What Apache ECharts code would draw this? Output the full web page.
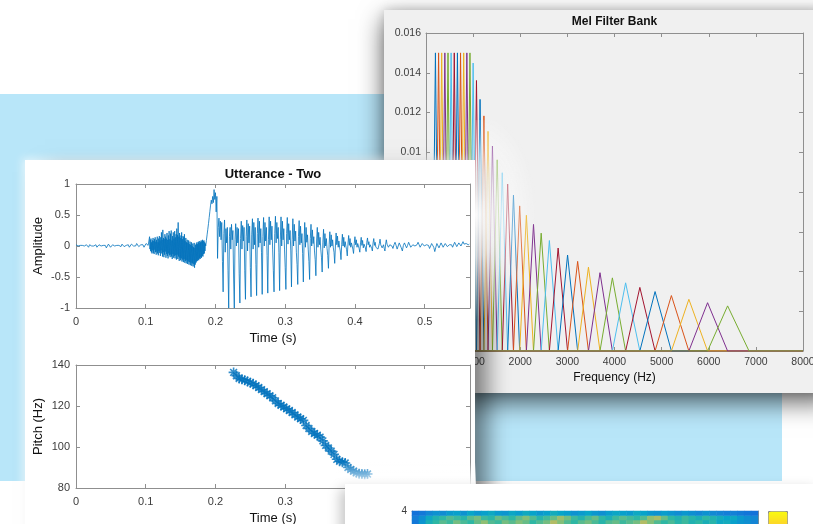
<!DOCTYPE html>
<html>
<head>
<meta charset="utf-8">
<title>Speech analysis figures</title>
<script src="https://cdn.jsdelivr.net/npm/echarts@6.0.0/dist/echarts.min.js"></script>
<style>
  html, body { margin: 0; padding: 0; background: #ffffff; }
  body { width: 813px; height: 524px; position: relative; overflow: hidden; }
  .layer { position: absolute; }
  #backdrop { left: 0; top: 94px; width: 782px; height: 387px; background: #b8e6f9; }
  #melWin { left: 384px; top: 10px; width: 450px; height: 383px; background: #f0f0f0;
            box-shadow: 0 9px 24px rgba(0,0,0,0.62), 0 0 10px rgba(0,0,0,0.15); }
  #uttShade { left: 25px; top: 160px; width: 450px; height: 420px;
              box-shadow: 16px 8px 22px -4px rgba(0,0,0,0.5), -3px -2px 8px rgba(255,255,255,0.6); }
  #uttGlow { left: 475px; top: 120px; width: 90px; height: 220px;
             background: radial-gradient(ellipse 62px 105px at 0px 95px, rgba(255,255,255,0.97) 0%, rgba(255,255,255,0.7) 40%, rgba(255,255,255,0) 100%); }
  #uttWin { left: 25px; top: 160px; width: 450px; height: 420px; background: #ffffff; }
  #specGlow { left: 335px; top: 462px; width: 141px; height: 22px;
              background: linear-gradient(to bottom, rgba(255,255,255,0), rgba(255,255,255,0.85)); }
  #specWin { left: 345px; top: 484px; width: 480px; height: 60px; background: #ffffff;
             box-shadow: -8px 2px 12px -3px rgba(0,0,0,0.22); }
  .chart { position: absolute; left: 0; top: 0; }
</style>
</head>
<body>
<div id="backdrop" class="layer"></div>
<div id="melWin" class="layer"><div id="melChart" class="chart" style="width:450px;height:383px"></div></div>
<div id="uttShade" class="layer"></div>
<div id="uttGlow" class="layer"></div>
<div id="uttWin" class="layer"><div id="uttChart" class="chart" style="width:450px;height:364px"></div></div>
<div id="specGlow" class="layer"></div>
<div id="specWin" class="layer"><div id="specChart" class="chart" style="width:480px;height:60px"></div></div>
<script>
const FONT = '"Liberation Sans", Arial, Helvetica, sans-serif';
const FRAME = '#8f8f8f';
const TICK_TEXT = '#3c3c3c';
const TITLE_TEXT = '#111111';
const lineColors = ['#0072BD', '#D95319', '#EDB120', '#7E2F8E', '#77AC30', '#4DBEEE', '#A2142F'];

// ---------- Mel filter bank: band edges (Hz) and peak height of each triangle ----------
const melEdgesHz = [133, 200, 267, 333, 400, 467, 533, 600, 667, 733, 800, 867, 933, 1000,
  1071, 1147, 1229, 1316, 1410, 1510, 1618, 1733, 1856, 1988,
  2130, 2281, 2444, 2618, 2804, 3004, 3218, 3447, 3692, 3955,
  4236, 4538, 4861, 5207, 5578, 5975, 6400, 6855];
const melPeakHeights = [0.0150, 0.0150, 0.0150, 0.0150, 0.0150, 0.0150, 0.0150, 0.0150, 0.0150, 0.0150, 0.0150, 0.0150,
  0.01449, 0.01361, 0.01266, 0.01183, 0.01105, 0.01031, 0.00962, 0.00897, 0.0084, 0.00784,
  0.0073, 0.00683, 0.00637, 0.00593, 0.00556, 0.00518, 0.00483, 0.00451, 0.00422, 0.00394,
  0.00368, 0.00343, 0.0032, 0.00299, 0.00279, 0.0026, 0.00243, 0.00227];

// ---------- Utterance "Two": amplitude samples, one array per stretch of the recording ----------
const waveStartS = [0, 0.105, 0.186, 0.4515];
const waveStepS = [0.0015, 0.0005, 0.001, 0.0015];
const ampQuiet = [
  0.02, 0.03, 0.00, -0.02, 0.01, 0.04, 0.01, -0.02, 0.00, 0.03,
  0.02, -0.01, -0.02, 0.02, 0.03, 0.00, -0.03, 0.00, 0.03, 0.02,
  -0.02, -0.02, 0.02, 0.03, 0.00, -0.02, 0.01, 0.03, 0.01, -0.03,
  -0.01, 0.03, 0.02, -0.02, -0.02, 0.02, 0.04, 0.00, -0.02, 0.01,
  0.03, 0.01, -0.02, -0.01, 0.03, 0.03, -0.01, -0.03, 0.01, 0.04,
  0.02, -0.02, -0.01, 0.03, 0.04, 0.00, -0.03, 0.00, 0.04, 0.03,
  -0.01, -0.02, 0.02, 0.05, 0.02, -0.02, 0.00, 0.04, 0.05, 0.01];
const ampBurst = [
  0.00, 0.15, -0.05, 0.10, -0.08, 0.12, -0.10, 0.06, -0.12, 0.09,
  -0.07, 0.13, -0.11, 0.08, -0.13, 0.11, -0.06, 0.14, -0.10, 0.07,
  -0.14, 0.10, -0.09, 0.15, -0.12, 0.06, -0.15, 0.12, -0.08, 0.16,
  -0.11, 0.09, -0.16, 0.14, -0.07, 0.22, -0.12, 0.10, -0.17, 0.26,
  -0.10, 0.13, -0.18, 0.11, -0.14, 0.19, -0.09, 0.15, -0.19, 0.12,
  -0.13, 0.21, -0.16, 0.10, -0.20, 0.17, -0.12, 0.24, -0.15, 0.11,
  -0.18, 0.20, -0.14, 0.25, -0.17, 0.09, -0.21, 0.16, -0.13, 0.22,
  -0.19, 0.12, -0.16, 0.24, -0.20, 0.14, -0.15, 0.19, -0.22, 0.28,
  -0.14, 0.18, -0.21, 0.38, -0.17, 0.15, -0.24, 0.21, -0.19, 0.13,
  -0.23, 0.17, -0.20, 0.22, -0.25, 0.11, -0.22, 0.16, -0.26, 0.14,
  -0.21, 0.19, -0.27, 0.08, -0.24, 0.13, -0.28, 0.06, -0.23, 0.10,
  -0.29, 0.05, -0.25, 0.09, -0.30, 0.03, -0.26, 0.07, -0.31, 0.02,
  -0.27, 0.06, -0.32, 0.00, -0.28, 0.04, -0.33, -0.02, -0.29, 0.05,
  -0.35, -0.03, -0.30, 0.02, -0.27, 0.04, -0.25, 0.06, -0.24, 0.03,
  -0.22, 0.07, -0.23, 0.05, -0.20, 0.08, -0.21, 0.06, -0.18, 0.09,
  -0.19, 0.07, -0.16, 0.10, -0.17, 0.08, -0.13, 0.09, -0.12, 0.06, -0.08, 0.04];
const ampVoiced = [
  0.00, 0.09, 0.18, 0.27, 0.36, 0.46, 0.56, 0.66, 0.74, 0.68,
  0.80, 0.70, 0.91, 0.75, 0.86, 0.55, 0.80, -0.20, 0.30, 0.45,
  0.15, 0.40, 0.10, 0.38, -0.25, -0.74, 0.20, 0.42, -0.10, 0.28,
  0.05, 0.30, -0.40, -1.00, 0.15, 0.30, -0.05, 0.35, 0.10, 0.25,
  -0.50, -1.00, 0.10, 0.36, 0.00, 0.30, 0.05, 0.28, -0.45, -0.92,
  0.12, 0.40, -0.05, 0.33, 0.08, 0.30, -0.40, -0.86, 0.15, 0.42,
  -0.08, 0.36, 0.05, 0.32, -0.35, -0.82, 0.18, 0.44, -0.05, 0.38,
  0.02, 0.30, -0.30, -0.80, 0.20, 0.45, -0.02, 0.40, 0.05, 0.28,
  -0.10, -0.78, 0.15, 0.46, 0.00, 0.38, 0.08, 0.30, -0.15, -0.76,
  0.10, 0.47, 0.02, 0.40, 0.10, 0.32, -0.05, -0.40, -0.74, 0.20,
  0.48, 0.05, 0.38, 0.12, 0.30, -0.10, -0.72, 0.10, 0.47, 0.00,
  0.40, 0.10, 0.28, -0.05, -0.35, -0.70, 0.20, 0.46, 0.03, 0.36,
  0.10, 0.25, -0.08, -0.66, 0.10, 0.44, 0.00, 0.35, 0.08, 0.24,
  -0.10, -0.30, -0.62, 0.15, 0.41, 0.02, 0.32, 0.05, 0.20, -0.12,
  -0.58, 0.05, 0.38, -0.02, 0.30, 0.06, 0.18, -0.05, -0.25, -0.54,
  0.12, 0.35, 0.00, 0.26, 0.04, 0.15, -0.08, -0.22, -0.48, 0.08,
  0.30, -0.02, 0.22, 0.02, 0.14, -0.05, -0.18, -0.42, 0.05, 0.27,
  -0.03, 0.20, 0.00, 0.12, -0.04, -0.15, -0.36, 0.02, 0.23, -0.02,
  0.18, 0.00, 0.10, -0.03, -0.10, -0.28, 0.00, 0.21, 0.02, 0.16,
  -0.02, 0.08, -0.02, -0.08, -0.22, 0.02, 0.19, 0.00, 0.14, -0.02,
  0.07, 0.00, -0.06, -0.16, 0.03, 0.17, 0.01, 0.12, -0.02, 0.05,
  0.00, -0.05, -0.12, 0.04, 0.15, 0.02, 0.10, -0.02, 0.04, 0.01,
  -0.04, -0.10, 0.05, 0.14, 0.01, 0.09, -0.03, 0.03, 0.00, -0.03,
  -0.09, 0.06, 0.13, 0.02, 0.07, -0.02, 0.02, 0.00, -0.04, -0.08,
  0.05, 0.12, 0.01, 0.06, -0.02, 0.01, -0.01, -0.05, -0.07, 0.04,
  0.11, 0.02, 0.05, -0.03, 0.00, 0.02, -0.04, -0.08, 0.03, 0.10,
  0.03, 0.04, -0.02, 0.01, 0.02];
const ampTail = [
  0.04, 0.00, -0.04, 0.02, 0.06, 0.01, -0.05, 0.00, 0.05, 0.03,
  -0.03, -0.08, 0.01, 0.05, 0.02, -0.03, 0.01, 0.06, 0.03, -0.02,
  -0.04, 0.02, 0.05, 0.00, -0.03, 0.02, 0.06, 0.02, -0.02, -0.01,
  0.04, 0.04, 0.00, -0.03, 0.02, 0.05, 0.01, -0.04, -0.01, 0.04,
  0.03, -0.02, -0.09, -0.02, 0.04, 0.02, -0.03, 0.01, 0.05, 0.02,
  -0.02, 0.00, 0.04, 0.03, -0.01, -0.03, 0.02, 0.05, 0.02, -0.02,
  0.01, 0.06, 0.03, -0.01, 0.00, 0.05, 0.04, 0.00, 0.02, 0.07,
  0.03, 0.01, 0.04, 0.06, 0.02, 0.03];

// ---------- Pitch track (Hz), one estimate every hop ----------
const pitchStartS = 0.226;
const pitchHopS = 0.004;
const pitchHz = [
  136.4, 134.8, 133.4, 133.0, 132.6, 132.0, 131.4, 130.8, 129.9, 129.0,
  128.0, 127.0, 126.0, 125.0, 124.0, 122.5, 121.2, 120.4, 119.5, 118.6,
  117.8, 116.8, 115.7, 114.6, 113.8, 113.0, 110.5, 109.0, 107.6, 106.6,
  105.8, 104.8, 103.0, 100.8, 99.5, 98.0, 96.4, 94.0, 93.0, 92.6,
  92.2, 90.0, 89.0, 88.2, 87.4, 87.0, 86.8, 86.7, 86.8];

// ---------- Spectrogram: top frequency rows (normalised level), low row first ----------
const specBandsKHz = ['3.86', '3.93', '4.00'];
const specRowLow = [0.22, 0.32, 0.44, 0.50, 0.56, 0.52, 0.60, 0.54, 0.50, 0.58, 0.64, 0.55, 0.52, 0.60, 0.56, 0.62, 0.58, 0.50, 0.55, 0.60,
  0.70, 0.62, 0.55, 0.50, 0.56, 0.60, 0.54, 0.48, 0.55, 0.58, 0.52, 0.56, 0.60, 0.70, 0.62, 0.55, 0.50, 0.54, 0.48, 0.52,
  0.46, 0.50, 0.44, 0.48, 0.40, 0.42, 0.36, 0.32, 0.30, 0.26];
const specRowMid = [0.24, 0.30, 0.40, 0.46, 0.50, 0.55, 0.52, 0.48, 0.56, 0.60, 0.52, 0.49, 0.58, 0.54, 0.50, 0.57, 0.62, 0.55, 0.48, 0.53,
  0.58, 0.66, 0.60, 0.52, 0.47, 0.54, 0.58, 0.50, 0.45, 0.52, 0.56, 0.53, 0.50, 0.55, 0.64, 0.68, 0.58, 0.50, 0.46, 0.52,
  0.48, 0.44, 0.50, 0.46, 0.42, 0.38, 0.40, 0.34, 0.30, 0.28];
const specRowTop = [0.20, 0.22, 0.27, 0.31, 0.29, 0.34, 0.36, 0.31, 0.38, 0.33, 0.36, 0.40, 0.34, 0.32, 0.39, 0.35, 0.41, 0.37, 0.33, 0.36,
  0.42, 0.38, 0.35, 0.31, 0.34, 0.38, 0.33, 0.30, 0.35, 0.39, 0.36, 0.34, 0.40, 0.37, 0.33, 0.31, 0.35, 0.32, 0.29, 0.33,
  0.30, 0.27, 0.31, 0.28, 0.26, 0.24, 0.25, 0.23, 0.21, 0.20];
const parula = ['#352a87', '#0f5cdd', '#1481d6', '#06a4ca', '#2eb7a4', '#87bf77', '#d1bb59', '#fec832', '#f9fb0e'];

// ---------- shared axis styling (MATLAB-like boxed axes, ticks inside) ----------
function valueAxis(o) {
  return {
    type: 'value', gridIndex: o.grid || 0, position: o.position,
    min: o.min, max: o.max, interval: o.interval,
    axisLine: { show: true, onZero: false, lineStyle: { color: FRAME, width: 1 } },
    axisTick: { show: o.ticks !== false, inside: true, length: 4, lineStyle: { color: FRAME, width: 1 } },
    axisLabel: { show: !!o.labels, margin: o.margin || 6, fontSize: o.fs || 11, color: TICK_TEXT,
                 fontFamily: FONT, showMaxLabel: o.showMax, showMinLabel: o.showMin,
                 formatter: (v) => String(+v.toFixed(6)) },
    splitLine: { show: false },
    name: o.name || '', nameLocation: 'middle', nameGap: o.nameGap || 20, nameMoveOverlap: false,
    nameTextStyle: { fontSize: o.nfs || 12, color: TITLE_TEXT, fontFamily: FONT }
  };
}

// ---------- Mel filter bank window ----------
const melChart = echarts.init(document.getElementById('melChart'), null, { renderer: 'canvas' });
const melSeries = melPeakHeights.map((h, k) => ({
  type: 'line', xAxisIndex: 0, yAxisIndex: 0, showSymbol: false, silent: true, animation: false,
  lineStyle: { color: lineColors[k % 7], width: 1 }, itemStyle: { color: lineColors[k % 7] },
  data: [[0, 0], [melEdgesHz[k], 0], [melEdgesHz[k + 1], h], [melEdgesHz[k + 2], 0], [8000, 0]]
}));
melChart.setOption({
  animation: false,
  title: { text: 'Mel Filter Bank', left: 230.5, textAlign: 'center', top: 6, padding: 0,
           textStyle: { fontSize: 12, fontWeight: 'bold', color: TITLE_TEXT, fontFamily: FONT } },
  grid: [{ left: 42, top: 23, width: 377, height: 318, outerBoundsMode: 'none' }],
  xAxis: [
    valueAxis({ min: 0, max: 8000, interval: 1000, labels: true, fs: 10.5, margin: 6,
                name: 'Frequency (Hz)', nameGap: 21, nfs: 12 }),
    valueAxis({ min: 0, max: 8000, interval: 1000, position: 'top' })
  ],
  yAxis: [
    valueAxis({ min: 0, max: 0.016, interval: 0.002, labels: true, fs: 10.5, margin: 5 }),
    valueAxis({ min: 0, max: 0.016, interval: 0.002, position: 'right' })
  ],
  series: melSeries
});

// ---------- Utterance window: waveform and pitch ----------
const waveSegments = [ampQuiet, ampBurst, ampVoiced, ampTail];
const wavePoints = [];
waveSegments.forEach((seg, s) => {
  seg.forEach((v, i) => wavePoints.push([waveStartS[s] + i * waveStepS[s], v]));
});
const pitchPoints = pitchHz.map((hz, i) => [pitchStartS + i * pitchHopS, hz]);

const uttChart = echarts.init(document.getElementById('uttChart'), null, { renderer: 'canvas' });
uttChart.setOption({
  animation: false,
  title: { text: 'Utterance - Two', left: 248, textAlign: 'center', top: 8, padding: 0,
           textStyle: { fontSize: 13, fontWeight: 'bold', color: TITLE_TEXT, fontFamily: FONT } },
  grid: [
    { left: 51, top: 24, width: 394, height: 124, outerBoundsMode: 'none' },
    { left: 51, top: 205, width: 394, height: 123, outerBoundsMode: 'none' }
  ],
  xAxis: [
    valueAxis({ grid: 0, min: 0, max: 0.565, interval: 0.1, labels: true, fs: 11, margin: 8, showMax: false,
                name: 'Time (s)', nameGap: 24, nfs: 13 }),
    valueAxis({ grid: 0, min: 0, max: 0.565, interval: 0.1, position: 'top' }),
    valueAxis({ grid: 1, min: 0, max: 0.565, interval: 0.1, labels: true, fs: 11, margin: 8, showMax: false,
                name: 'Time (s)', nameGap: 24, nfs: 13 }),
    valueAxis({ grid: 1, min: 0, max: 0.565, interval: 0.1, position: 'top' })
  ],
  yAxis: [
    valueAxis({ grid: 0, min: -1, max: 1, interval: 0.5, labels: true, fs: 11, margin: 6,
                name: 'Amplitude', nameGap: 31, nfs: 13 }),
    valueAxis({ grid: 0, min: -1, max: 1, interval: 0.5, position: 'right' }),
    valueAxis({ grid: 1, min: 80, max: 140, interval: 20, labels: true, fs: 11, margin: 6,
                name: 'Pitch (Hz)', nameGap: 31, nfs: 13 }),
    valueAxis({ grid: 1, min: 80, max: 140, interval: 20, position: 'right' })
  ],
  series: [
    { type: 'line', xAxisIndex: 0, yAxisIndex: 0, showSymbol: false, silent: true, clip: true,
      lineStyle: { color: '#0072BD', width: 0.8 }, itemStyle: { color: '#0072BD' }, data: wavePoints },
    { type: 'scatter', xAxisIndex: 2, yAxisIndex: 2, silent: true, clip: true,
      symbol: 'path://M0 5L10 5M5 0L5 10M1.6 1.6L8.4 8.4M8.4 1.6L1.6 8.4', symbolSize: 10,
      itemStyle: { color: 'rgba(0,0,0,0)', borderColor: '#0072BD', borderWidth: 1.6 }, data: pitchPoints }
  ]
});

// ---------- Spectrogram window (top rows) ----------
const specRows = [specRowLow, specRowMid, specRowTop];
const specFrames = specRowTop.map((_, i) => String(i));
const specCells = [];
specRows.forEach((row, r) => row.forEach((v, c) => specCells.push([c, r, v])));

const specChart = echarts.init(document.getElementById('specChart'), null, { renderer: 'canvas' });
specChart.setOption({
  animation: false,
  grid: [{ left: 67, top: 27, width: 346, height: 13.5, outerBoundsMode: 'none' }],
  xAxis: [
    { type: 'category', data: specFrames, show: false },
    valueAxis({ min: 0, max: 0.59, interval: 0.1, position: 'top' })
  ],
  yAxis: [
    { type: 'category', data: specBandsKHz, show: false },
    valueAxis({ min: 3.6, max: 4, interval: 0.4, position: 'left', labels: true, fs: 10, margin: 5,
                showMin: false, ticks: false }),
    valueAxis({ min: 3.6, max: 4, interval: 0.4, position: 'right', ticks: false })
  ],
  visualMap: {
    type: 'continuous', min: 0, max: 1, calculable: false, orient: 'vertical',
    left: 423, top: 27, itemWidth: 19, itemHeight: 140, padding: 0,
    borderColor: '#8a8a8a', borderWidth: 1, inRange: { color: parula }
  },
  series: [{ type: 'heatmap', xAxisIndex: 0, yAxisIndex: 0, silent: true, data: specCells }]
});
</script>
</body>
</html>
